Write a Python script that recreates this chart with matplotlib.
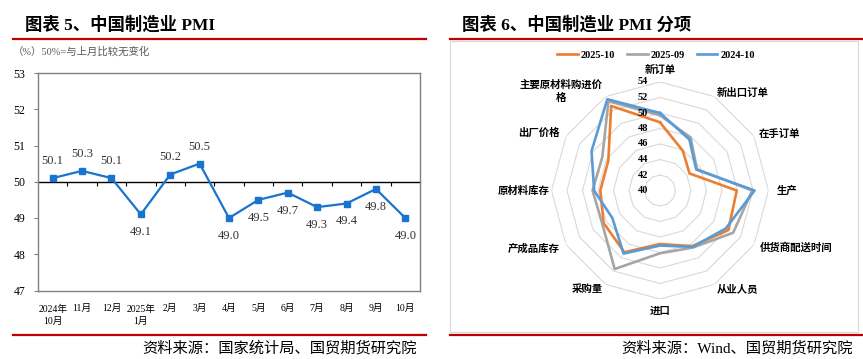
import matplotlib
matplotlib.use('Agg')
import matplotlib.pyplot as plt
import numpy as np
from matplotlib.lines import Line2D
from matplotlib.patches import Rectangle

plt.rcParams['font.family'] = ['Liberation Serif', 'Noto Sans CJK SC']

# ---------------- data ----------------
months = ['2024年\n10月', '11月', '12月', '2025年\n1月', '2月', '3月', '4月',
          '5月', '6月', '7月', '8月', '9月', '10月']
pmi = [50.1, 50.3, 50.1, 49.1, 50.2, 50.5, 49.0, 49.5, 49.7, 49.3, 49.4, 49.8, 49.0]
label_above = [True, True, True, False, True, True, False, False, False, False, False, False, False]
y_ticks = [47, 48, 49, 50, 51, 52, 53]

categories = ['新订单', '新出口订单', '在手订单', '生产', '供货商配送时间', '从业人员',
              '进口', '采购量', '产成品库存', '原材料库存', '出厂价格', '主要原材料购进价\n格']
s_2025_10 = [48.8, 45.9, 44.4, 49.9, 50.2, 48.3, 46.9, 49.2, 48.4, 47.7, 47.7, 52.6]
s_2025_09 = [49.7, 47.9, 45.5, 51.9, 50.9, 48.5, 48.1, 51.7, 48.6, 48.7, 48.6, 53.3]
s_2024_10 = [50.0, 47.6, 45.4, 52.2, 49.8, 48.4, 47.1, 49.4, 47.1, 48.5, 50.2, 53.6]
series_names = ['2025-10', '2025-09', '2024-10']
radar_ticks = [40, 42, 44, 46, 48, 50, 52, 54]

W, H = 863, 359
fig = plt.figure(figsize=(W / 100, H / 100), dpi=100)


def fx(x):
    return x / W


def fy(y):
    return 1 - y / H


RED = '#C00000'
CJK_BOLD = dict(family=['Liberation Serif', 'Noto Sans CJK SC'], fontweight='bold')

# ---------------- titles / rules ----------------
fig.text(fx(25), fy(25), '图表 5、中国制造业 PMI', fontsize=12.5, va='center', ha='left', **CJK_BOLD)
fig.text(fx(462), fy(25), '图表 6、中国制造业 PMI 分项', fontsize=12.5, va='center', ha='left', **CJK_BOLD)
for x0, x1, y in [(13, 426, 38.5), (450, 863, 38.5), (13, 426, 335), (450, 863, 334.5)]:
    fig.add_artist(Line2D([fx(x0), fx(x1)], [fy(y), fy(y)], color=RED, lw=1.6,
                          transform=fig.transFigure))
fig.text(fx(417), fy(348), '资料来源：国家统计局、国贸期货研究院', fontsize=11, ha='right', va='center')
fig.text(fx(853), fy(348), '资料来源：Wind、国贸期货研究院', fontsize=11, ha='right', va='center')

# right panel frame
fig.add_artist(Rectangle((fx(450), fy(332)), fx(858) - fx(450), fy(41) - fy(332),
                         transform=fig.transFigure, fill=False, edgecolor='#d9d9d9', lw=0.8))

# ---------------- left line chart ----------------
fig.text(fx(13), fy(52), '（%）50%=与上月比较无变化', fontsize=7.5, ha='left', va='center',
         color='#595959')
ax = fig.add_axes([fx(38), fy(290.5), fx(420) - fx(38), fy(73) - fy(290.5)])
x = np.arange(len(pmi))
ax.set_xlim(-0.5, len(pmi) - 0.5)
ax.set_ylim(47, 53)
BLUE = '#1874CD'
ax.plot(x, pmi, color=BLUE, lw=1.6, marker='s', ms=4.5, zorder=3)
for xi, v, up in zip(x, pmi, label_above):
    ax.annotate(f'{v:.1f}', xy=(xi, v), xytext=(0, 17 if up else -18), textcoords='offset pixels',
                ha='center', va='center', fontsize=9, color='#333333')
for sp in ax.spines.values():
    sp.set_color('#808080')
    sp.set_linewidth(1.0)
ax.set_yticks(y_ticks)
ax.set_yticklabels([str(t) for t in y_ticks])
ax.tick_params(axis='y', direction='out', length=3, color='#808080', labelsize=8.5, pad=6)
ax.set_xticks(x)
ax.set_xticklabels(months, linespacing=1.45)
ax.tick_params(axis='x', length=0, labelsize=7, pad=10)

sec = ax.secondary_xaxis((50 - 47) / 6)
sec.set_xticks(np.arange(0.5, len(pmi) - 1, 1))
sec.tick_params(direction='in', length=3, width=0.8, color='black', labeltop=False, labelbottom=False)
sec.spines['top'].set_color('black')
sec.spines['top'].set_linewidth(1.0)
sec.spines['bottom'].set_visible(False)

# ---------------- right radar chart ----------------
cx, cy, R = 660, 190.5, 108.5
pax = fig.add_axes([fx(cx - R), fy(cy + R), fx(2 * R), (2 * R) / H], projection='polar')
pax.set_theta_offset(np.pi / 2)
pax.set_theta_direction(-1)
pax.set_ylim(40, 54)
pax.grid(False)
pax.spines['polar'].set_visible(False)
pax.set_xticks([])
pax.set_yticks([])
pax.patch.set_alpha(0)

n = len(categories)
ang = np.linspace(0, 2 * np.pi, n, endpoint=False)
ang_c = np.append(ang, ang[0])
for r in radar_ticks[1:]:
    pax.plot(ang_c, [r] * (n + 1), color='#d9d9d9', lw=0.8, zorder=1)

colors = ['#ED7D31', '#A5A5A5', '#5B9BD5']
for vals, c, name in zip([s_2025_10, s_2025_09, s_2024_10], colors, series_names):
    pax.plot(ang_c, list(vals) + [vals[0]], color=c, lw=1.9, label=name, zorder=3, clip_on=False)

for r in radar_ticks:
    pax.annotate(str(r), xy=(0, r), xytext=(-12, 0), textcoords='offset pixels',
                 ha='right', va='center', fontsize=7.5, fontweight='bold')

lab_cfg = [  # (r, ha)
    (55.5, 'center'), (54.6, 'left'), (54.7, 'left'), (55.1, 'left'), (54.8, 'left'),
    (54.7, 'left'), (55.5, 'center'), (54.7, 'right'), (54.9, 'right'), (54.3, 'right'),
    (54.9, 'right'), (54.8, 'right')]
for a, cat, (r, ha) in zip(ang, categories, lab_cfg):
    pax.text(a, r, cat, ha=ha, va='center', fontsize=7.5, fontweight='bold',
             family=['Noto Sans CJK SC'], multialignment='center', linespacing=1.35)

handles = [Line2D([], [], color=c, lw=1.9) for c in colors]
fig.legend(handles, series_names, loc='center', bbox_to_anchor=(fx(656), fy(55)), ncol=3,
           frameon=False, handlelength=2.0, handletextpad=0.3, columnspacing=1.1,
           prop=dict(family='Liberation Serif', weight='bold', size=7.5))

fig.savefig('out.png', dpi=100)
